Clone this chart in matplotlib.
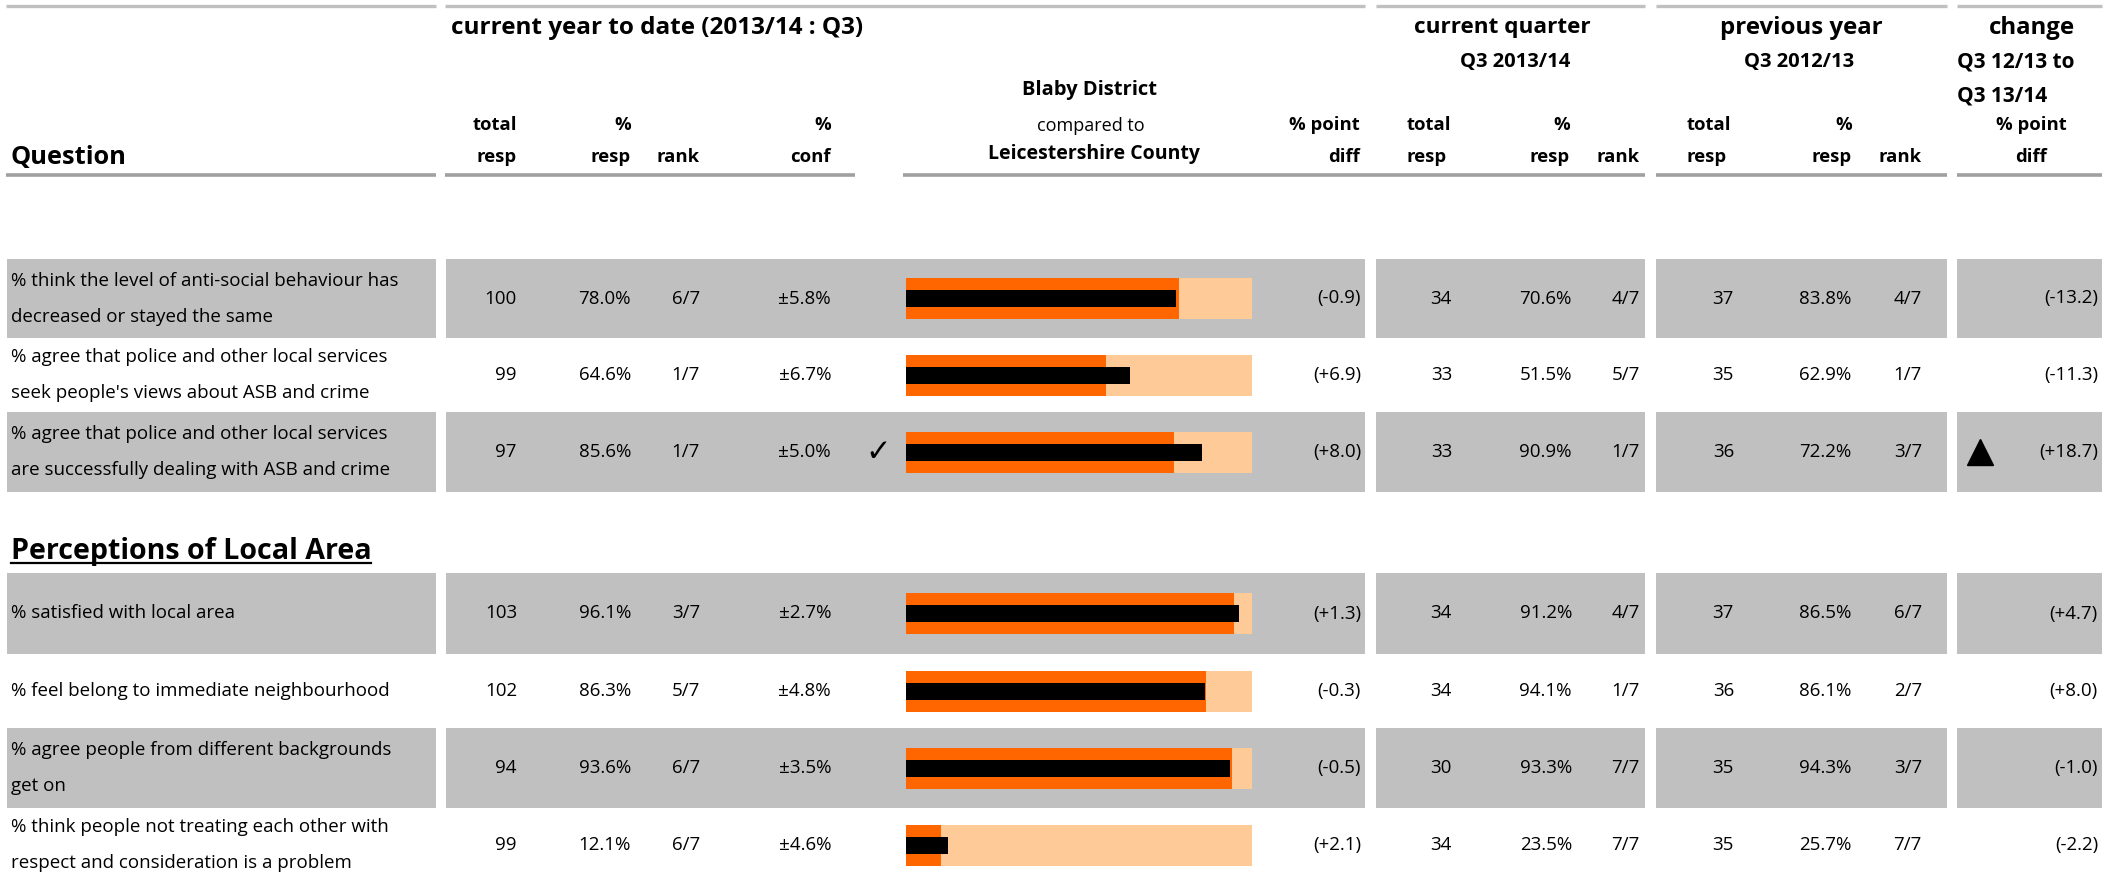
import numpy as np
import matplotlib.pyplot as plt
from matplotlib.patches import Rectangle

plt.rcParams['font.family'] = ['Open Sans', 'DejaVu Sans']

# --- data ------------------------------------------------------------------
questions = [
    "% think the level of anti-social behaviour has\ndecreased or stayed the same",
    "% agree that police and other local services\nseek people's views about ASB and crime",
    "% agree that police and other local services\nare successfully dealing with ASB and crime",
    "% satisfied with local area",
    "% feel belong to immediate neighbourhood",
    "% agree people from different backgrounds\nget on",
    "% think people not treating each other with\nrespect and consideration is a problem",
]
section_title = "Perceptions of Local Area"

ytd_total = [100, 99, 97, 103, 102, 94, 99]
ytd_pct = [78.0, 64.6, 85.6, 96.1, 86.3, 93.6, 12.1]
ytd_rank = ["6/7", "1/7", "1/7", "3/7", "5/7", "6/7", "6/7"]
ytd_conf = [5.8, 6.7, 5.0, 2.7, 4.8, 3.5, 4.6]
county_pct = [78.9, 57.7, 77.6, 94.8, 86.6, 94.1, 10.0]
pt_diff = [-0.9, 6.9, 8.0, 1.3, -0.3, -0.5, 2.1]
significant = [False, False, True, False, False, False, False]

cq_total = [34, 33, 33, 34, 34, 30, 34]
cq_pct = [70.6, 51.5, 90.9, 91.2, 94.1, 93.3, 23.5]
cq_rank = ["4/7", "5/7", "1/7", "4/7", "1/7", "7/7", "7/7"]

py_total = [37, 35, 36, 37, 36, 35, 35]
py_pct = [83.8, 62.9, 72.2, 86.5, 86.1, 94.3, 25.7]
py_rank = ["4/7", "1/7", "3/7", "6/7", "2/7", "3/7", "7/7"]

change = [-13.2, -11.3, 18.7, 4.7, 8.0, -1.0, -2.2]
change_up = [False, False, True, False, False, False, False]

# --- layout (pixels) --------------------------------------------------------
W, H = 2118, 882
row_top = [259, 338, 412, 573, 654, 728, 808]
row_bot = [338, 412, 492, 654, 728, 808, 882]
shaded = [True, False, True, True, False, True, False]
blocks = [(7, 436), (446, 1365), (1376, 1645), (1656, 1947), (1957, 2102)]

GREY = '#c0c0c0'
ORANGE = '#ff6600'
PEACH = '#fecb98'
FS = 13.5      # body text
HS = 13.3      # small bold headers

fig = plt.figure(figsize=(W / 100, H / 100), dpi=100)
ax = fig.add_axes([0, 0, 1, 1])
ax.set_xlim(0, W)
ax.set_ylim(H, 0)
ax.axis('off')

# header rules
for a, b in [(6, 436), (445, 1365), (1376, 1645), (1656, 1947), (1957, 2102)]:
    ax.plot([a, b], [6, 6], color='#c0c0c0', lw=2.4, solid_capstyle='butt')
for a, b in [(6, 436), (445, 855), (903, 1645), (1656, 1947), (1957, 2102)]:
    ax.plot([a, b], [175, 175], color='#a0a0a0', lw=2.6, solid_capstyle='butt')


def txt(x, y, s, ha='right', bold=False, size=FS, **kw):
    ax.text(x, y, s, ha=ha, va='center', fontsize=size,
            fontweight='bold' if bold else 'normal', **kw)


# header texts
txt(451, 28, "current year to date (2013/14 : Q3)", ha='left', bold=True, size=17.5)
txt(1502, 28, "current quarter", ha='center', bold=True, size=16.2)
txt(1801, 28, "previous year", ha='center', bold=True, size=17.3)
txt(2032, 28, "change", ha='center', bold=True, size=17.3)
txt(1515, 62, "Q3 2013/14", ha='center', bold=True, size=14.5)
txt(1799, 62, "Q3 2012/13", ha='center', bold=True, size=14.5)
txt(1957, 62, "Q3 12/13 to", ha='left', bold=True, size=15)
txt(1957, 96, "Q3 13/14", ha='left', bold=True, size=15)
txt(1090, 90, "Blaby District", ha='center', bold=True, size=14.5)
txt(1091, 126, "compared to", ha='center', size=13)
txt(1094, 154, "Leicestershire County", ha='center', bold=True, size=14)
txt(10, 157, "Question", ha='left', bold=True, size=18.3)

for x, top, bot, ha in [(517, "total", "resp", 'right'), (631, "%", "resp", 'right'),
                        (831, "%", "conf", 'right'), (1360, "% point", "diff", 'right'),
                        (1407, "total", "resp", 'left'), (1570, "%", "resp", 'right'),
                        (1687, "total", "resp", 'left'), (1852, "%", "resp", 'right'),
                        (2031, "% point", "diff", 'center')]:
    txt(x, 125, top, ha=ha, bold=True, size=HS)
    txt(x, 157, bot, ha=ha, bold=True, size=HS)
for x in [700, 1640, 1922]:
    txt(x, 157, "rank", bold=True, size=HS)

# section header
txt(11, 551, section_title, ha='left', bold=True, size=20.6)
ax.plot([11, 371], [563, 563], color='black', lw=1.6)

# rows
row_mid = [(a + b) / 2 for a, b in zip(row_top, row_bot)]
for i, q in enumerate(questions):
    y = row_mid[i]
    if shaded[i]:
        for a, b in blocks:
            ax.add_patch(Rectangle((a, row_top[i]), b - a, row_bot[i] - row_top[i],
                                   color=GREY, zorder=0, lw=0))
    lines = q.split('\n')
    if len(lines) == 1:
        txt(11, y, lines[0], ha='left')
    else:
        txt(11, y - 18, lines[0], ha='left')
        txt(11, y + 18, lines[1], ha='left')

    txt(517, y, f"{ytd_total[i]}")
    txt(631, y, f"{ytd_pct[i]:.1f}%")
    txt(700, y, ytd_rank[i])
    txt(831, y, f"\u00b1{ytd_conf[i]:.1f}%")
    if significant[i]:
        ax.text(878, y, "\u2713", ha='center', va='center', fontsize=22,
                fontweight='bold', family=['DejaVu Sans'])
    txt(1361, y, f"({pt_diff[i]:+.1f})")
    txt(1452, y, f"{cq_total[i]}")
    txt(1572, y, f"{cq_pct[i]:.1f}%")
    txt(1640, y, cq_rank[i])
    txt(1734, y, f"{py_total[i]}")
    txt(1851, y, f"{py_pct[i]:.1f}%")
    txt(1922, y, py_rank[i])
    txt(2098, y, f"({change[i]:+.1f})")
    if change_up[i]:
        ax.plot(1980, y, marker='^', ms=19, color='black')

# bullet bars: Blaby (black) vs Leicestershire County (orange)
bx = fig.add_axes([906 / W, 0, 346 / W, (H - 259) / H])
bx.set_xlim(0, 100)
bx.set_ylim(H, 259)
bx.axis('off')
bx.barh(row_mid, [100] * len(row_mid), height=41, color=PEACH, lw=0)
bx.barh(row_mid, county_pct, height=41, color=ORANGE, lw=0)
bx.barh(row_mid, ytd_pct, height=17, color='black', lw=0)

fig.savefig('out.png', dpi=100)
